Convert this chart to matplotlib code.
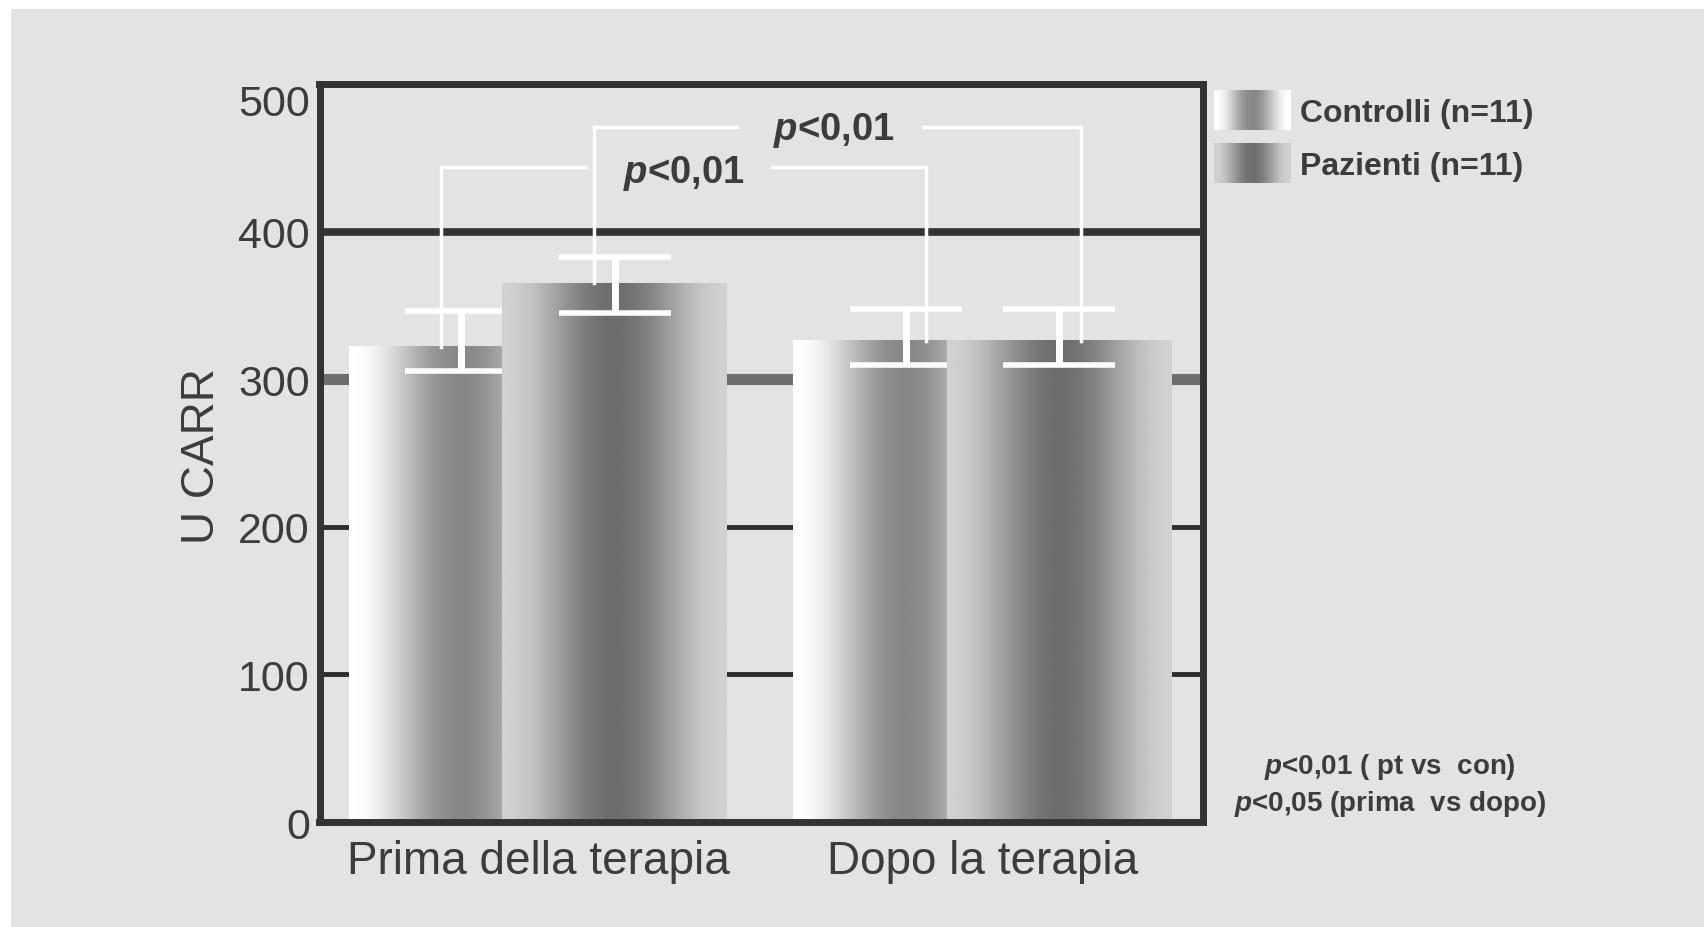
import numpy as np
import matplotlib.pyplot as plt
from matplotlib.patches import Rectangle, Patch
from matplotlib.legend_handler import HandlerBase

plt.rcParams['font.family'] = ['Liberation Sans', 'DejaVu Sans']
plt.rcParams['mathtext.fontset'] = 'custom'
plt.rcParams['mathtext.rm'] = 'Liberation Sans'
plt.rcParams['mathtext.it'] = 'Liberation Sans:italic'
plt.rcParams['mathtext.bfit'] = 'Liberation Sans:italic:bold'

# dati (U CARR)
gruppi = ['Prima della terapia', 'Dopo la terapia']
serie = ['Controlli (n=11)', 'Pazienti (n=11)']
controlli = [322, 326]
controlli_err_lo = [16.5, 16.5]
controlli_err_hi = [24, 21.5]
pazienti = [365, 326]
pazienti_err_lo = [20, 16.5]
pazienti_err_hi = [18, 21.5]
yticks = [0, 100, 200, 300, 400, 500]
sig_labels = [r'$\mathbfit{p}$<0,01', r'$\mathbfit{p}$<0,01']
sig_levels = [444, 471]
note = [r'$\mathbfit{p}$<0,01 ( pt vs  con)', r'$\mathbfit{p}$<0,05 (prima  vs dopo)']

bg = '#e3e3e3'
txt = '#3c3c3c'
# bordo / centro del gradiente (scala di grigi)
shade_con = (1.0, 0.53)
shade_paz = (0.82, 0.43)


def profilo(edge, center, n=256):
    t = np.linspace(0, 1, n)
    return center + (edge - center) * (1 + np.cos(2 * np.pi * t)) / 2


def barre_gradiente(ax, xs, heights, width, shade, z):
    bars = ax.bar(xs, heights, width, color='none', edgecolor='none', zorder=z)
    for b in bars:
        x0, y0 = b.get_xy()
        ax.imshow(profilo(*shade)[None, :], cmap='gray', vmin=0, vmax=1,
                  extent=(x0, x0 + b.get_width(), y0, y0 + b.get_height()),
                  aspect='auto', interpolation='bilinear', zorder=z)
    return bars


class GradHandler(HandlerBase):
    def __init__(self, shade):
        super().__init__()
        self.shade = shade

    def create_artists(self, legend, orig_handle, xdescent, ydescent,
                       width, height, fontsize, trans):
        vals = profilo(*self.shade, n=60)
        n = len(vals)
        arts = []
        for i, v in enumerate(vals):
            arts.append(Rectangle((-xdescent + i * width / n, -ydescent),
                                  width / n * 1.1, height, facecolor=(v, v, v),
                                  edgecolor='none', transform=trans))
        return arts


fig = plt.figure(figsize=(17.04, 9.28), dpi=100, facecolor='white')
fig.add_artist(Rectangle((11 / 1704, 0), 1, 1 - 10 / 928, transform=fig.transFigure,
                         facecolor=bg, edgecolor='none', zorder=-10))
ax = fig.add_axes([0.1875, 0.1131, 0.5185, 0.7953])
ax.set_facecolor(bg)

x = np.arange(len(gruppi))
off = 0.173
w = 0.506
x_con = x - off
x_paz = x + off

# linee orizzontali
stili = {100: ('#2e2e2e', 3.5), 200: ('#2e2e2e', 3.5), 300: ('#6e6e6e', 8), 400: ('#333333', 5.5)}
for v, (c, lw) in stili.items():
    ax.axhline(v, color=c, lw=lw, zorder=1)

barre_gradiente(ax, x_con, controlli, w, shade_con, 2)
ax.errorbar(x_con, controlli, yerr=[controlli_err_lo, controlli_err_hi], fmt='none',
            ecolor='white', elinewidth=5, capsize=40, capthick=4, zorder=3)
barre_gradiente(ax, x_paz, pazienti, w, shade_paz, 4)
ax.errorbar(x_paz, pazienti, yerr=[pazienti_err_lo, pazienti_err_hi], fmt='none',
            ecolor='white', elinewidth=5, capsize=40, capthick=4, zorder=5)

# parentesi di significatività
coppie = [(x_con, controlli, 0.045), (x_paz, pazienti, 0.048)]
label_pos = [(0.318, 440), (0.657, 469.5)]
for i, ((xx, yy, d), lvl, lab, (tx, ty)) in enumerate(zip(coppie, sig_levels, sig_labels, label_pos)):
    xl, xr = xx[0] - d, xx[1] + d
    ax.plot([xl, xl, xr, xr], [yy[0], lvl, lvl, yy[1]], color='white', lw=2.5,
            solid_joinstyle='miter', zorder=6 + 2 * i)
    ax.text(tx, ty, '   ' + lab + '   ', ha='center', va='center', fontsize=27.5,
            fontweight='bold', color=txt, zorder=7 + 2 * i,
            bbox=dict(boxstyle='square,pad=0.1', facecolor=bg, edgecolor='none'))

ax.set_xlim(-0.4916, 1.496)
ax.set_ylim(0, 500)
ax.set_yticks(yticks)
ax.set_xticks(x, gruppi)
ax.tick_params(axis='y', length=0, pad=7, labelsize=31, labelcolor=txt)
ax.tick_params(axis='x', length=0, pad=12, labelsize=33, labelcolor=txt)
ax.get_yticklabels()[-1].set_verticalalignment('top')
for s in ax.spines.values():
    s.set_linewidth(5)
    s.set_color('#333333')
    s.set_zorder(20)

ax.set_ylabel('U CARR', fontsize=33, color=txt)
ax.yaxis.set_label_coords(-0.108, 0.497)

handles = [Patch(label=s) for s in serie]
ax.legend(handles=handles,
          handler_map={handles[0]: GradHandler(shade_con), handles[1]: GradHandler(shade_paz)},
          loc='upper left', bbox_to_anchor=(1214 / 1704, 1 - 91 / 928), bbox_transform=fig.transFigure,
          frameon=False, borderpad=0, borderaxespad=0, handlelength=2.4, handleheight=1.55,
          handletextpad=0.3, labelspacing=0.42, prop={'size': 23, 'weight': 'bold'},
          labelcolor=txt)

fig.text(1390 / 1704, 1 - 767 / 928, note[0], ha='center', va='center', fontsize=20,
         fontweight='bold', color=txt)
fig.text(1390 / 1704, 1 - 804 / 928, note[1], ha='center', va='center', fontsize=20,
         fontweight='bold', color=txt)

fig.savefig('out.png', dpi=100, facecolor=fig.get_facecolor())
